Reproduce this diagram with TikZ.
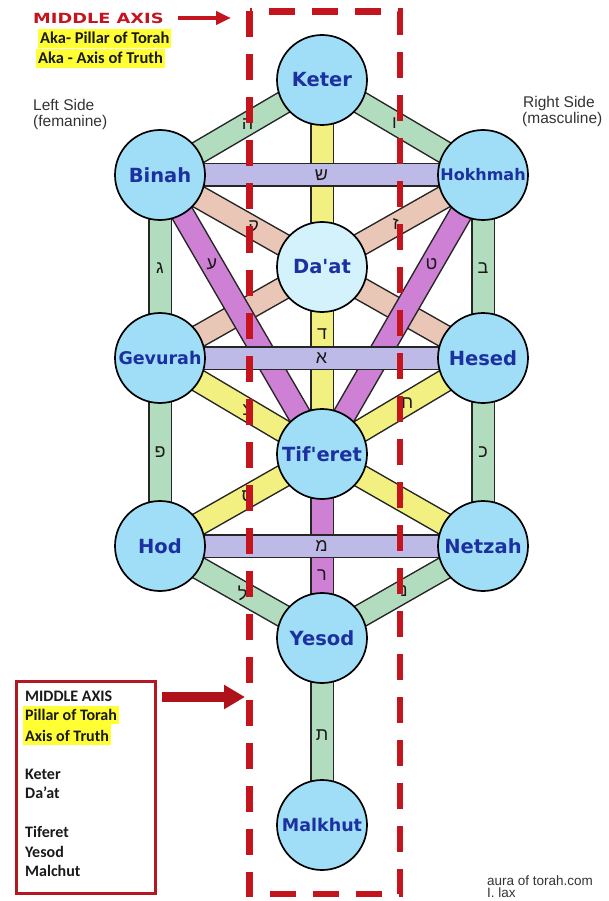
\documentclass[tikz,border=0pt]{standalone}
\usepackage{fontspec}
\setmainfont{Liberation Sans}
\newfontfamily\sefirafont{DejaVu Sans}
\newfontfamily\calfont{Carlito}
\newfontfamily\hebfont[Script=Hebrew]{Liberation Sans}
\usetikzlibrary{arrows.meta,backgrounds}
\definecolor{sefblue}{RGB}{160,222,248}
\definecolor{daatblue}{RGB}{212,242,251}
\definecolor{namblue}{RGB}{28,48,160}
\definecolor{pgreen}{RGB}{178,220,190}
\definecolor{pyellow}{RGB}{242,240,128}
\definecolor{plav}{RGB}{190,186,232}
\definecolor{ppeach}{RGB}{234,198,182}
\definecolor{ppurple}{RGB}{206,128,212}
\definecolor{axisred}{RGB}{196,20,30}
\definecolor{boxred}{RGB}{180,25,35}
\definecolor{hlyellow}{RGB}{255,255,51}

\begin{document}
\begin{tikzpicture}[x=1pt, y=-1pt,
    sefira/.style={circle, draw=black, line width=1.7pt, fill=sefblue, minimum size=90pt,
                   inner sep=0pt, text=namblue, font=\sefirafont\bfseries\fontsize{#1}{#1}\selectfont},
    sefira/.default=19.5,
    band/.style={draw=black!85, line width=1.5pt, double=#1, double distance=21pt},
    heb/.style={font=\hebfont\fontsize{18}{18}\selectfont, text=black!90, inner sep=0pt},
    side/.style={anchor=base west, font=\fontsize{15.5}{16}\selectfont, text=black!80, inner sep=0pt},
    note/.style={anchor=base west, font=\calfont\bfseries\fontsize{16}{18}\selectfont, text=black!90, inner sep=0pt},
    hilite/.style={fill=hlyellow, inner xsep=2pt, inner ysep=0pt, text height=14pt, text depth=4pt},
    axisline/.style={draw=axisred, line width=6.5pt, dash pattern=on 26pt off 17pt}
]
    \useasboundingbox (0,0) rectangle (608,901);

    \node[sefira] (Keter) at (322,80) {Keter};
    \node[sefira] (Binah) at (160,175) {Binah};
    \node[sefira=16] (Hokhmah) at (483,175) {Hokhmah};
    \node[sefira, fill=daatblue] (Daat) at (322,267) {Da'at};
    \node[sefira=17.5] (Gevurah) at (160,358) {Gevurah};
    \node[sefira] (Hesed) at (483,358) {Hesed};
    \node[sefira] (Tiferet) at (322,454) {Tif'eret};
    \node[sefira] (Hod) at (160,546) {Hod};
    \node[sefira] (Netzah) at (483,546) {Netzah};
    \node[sefira] (Yesod) at (322,638) {Yesod};
    \node[sefira=17.5] (Malkhut) at (322,825) {Malkhut};

    \begin{scope}[on background layer]
        \draw[band=pgreen] (Keter.center) -- node[heb, pos=.46]{ה} (Binah.center);
        \draw[band=pgreen] (Keter.center) -- node[heb, pos=.45]{ו} (Hokhmah.center);
        \draw[band=pgreen] (Binah.center) -- node[heb, pos=.51]{ג} (Gevurah.center);
        \draw[band=pgreen] (Hokhmah.center) -- node[heb, pos=.51]{ב} (Hesed.center);
        \draw[band=pgreen] (Gevurah.center) -- node[heb]{פ} (Hod.center);
        \draw[band=pgreen] (Hesed.center) -- node[heb]{כ} (Netzah.center);
        \draw[band=pgreen] (Hod.center) -- node[heb, pos=.51]{ל} (Yesod.center);
        \draw[band=pgreen] (Netzah.center) -- node[heb, pos=.49]{נ} (Yesod.center);
        \draw[band=pgreen] (Yesod.center) -- node[heb, pos=.52]{ת} (Malkhut.center);
        \draw[band=ppeach] (Binah.center) -- node[heb, pos=.29]{ק} (Hesed.center);
        \draw[band=ppeach] (Hokhmah.center) -- node[heb, pos=.27]{ז} (Gevurah.center);
        \draw[band=ppurple] (Binah.center) -- node[heb, pos=.32]{ע} (Tiferet.center);
        \draw[band=ppurple] (Hokhmah.center) -- node[heb, pos=.32]{ט} (Tiferet.center);
        \draw[band=ppurple] (Tiferet.center) -- node[heb, pos=.66]{ר} (Yesod.center);
        \draw[band=pyellow] (Keter.center) -- (Daat.center);
        \draw[band=pyellow] (Daat.center) -- node[heb, pos=.36]{ד} (Tiferet.center);
        \draw[band=pyellow] (Gevurah.center) -- node[heb, pos=.54]{צ} (Tiferet.center);
        \draw[band=pyellow] (Hesed.center) -- node[heb, pos=.47]{ח} (Tiferet.center);
        \draw[band=pyellow] (Tiferet.center) -- node[heb, pos=.46]{ס} (Hod.center);
        \draw[band=pyellow] (Tiferet.center) -- node[heb, pos=.5]{י} (Netzah.center);
        \draw[band=plav] (Binah.center) -- node[heb]{ש} (Hokhmah.center);
        \draw[band=plav] (Gevurah.center) -- node[heb]{א} (Hesed.center);
        \draw[band=plav] (Hod.center) -- node[heb]{מ} (Netzah.center);
    \end{scope}

    \draw[axisline] (249.5,11.5) rectangle (400,894);

    \node[anchor=west, inner sep=0pt, text=axisred, font=\sefirafont\bfseries\fontsize{14}{14}\selectfont]
        (midlabel) at (33,18) {\scalebox{1.27}[1]{MIDDLE AXIS}};
    \coordinate (topaim) at (231,18);
    \draw[axisred, line width=4pt, -{Triangle[length=15pt, width=13pt]}, shorten <=14pt] (midlabel.east) -- (topaim);
    \node[note, hilite, text height=15pt, font=\calfont\bfseries\fontsize{16.5}{18}\selectfont] (aka1) at (38,44) {Aka- Pillar of Torah};
    \node[note, hilite, text height=15pt, font=\calfont\bfseries\fontsize{16.5}{18}\selectfont] (aka2) at (36,64) {Aka - Axis of Truth};

    \node[side] (leftside) at (33,111) {Left Side};
    \node[side] (leftsub) at (33,127) {(femanine)};
    \node[side] (rightside) at (523,107.5) {Right Side};
    \node[side] (rightsub) at (522,123.5) {(masculine)};

    \node[draw=boxred, line width=3pt, minimum width=139pt, minimum height=212pt,
          anchor=north west, inner sep=0pt] (notebox) at (14.5,679.5) {};
    \node[note] (n1) at (25,701) {MIDDLE AXIS};
    \node[note, hilite] (n2) at (23,720) {Pillar of Torah};
    \node[note, hilite, text height=17pt] (n3) at (23,741) {Axis of Truth};
    \node[note] (n4) at (25,779) {Keter};
    \node[note] (n5) at (25,798) {Da’at};
    \node[note] (n6) at (25,837) {Tiferet};
    \node[note] (n7) at (25,857) {Yesod};
    \node[note] (n8) at (25,876) {Malchut};
    \coordinate (boxaim) at (245,697);
    \draw[axisred!90!black, line width=10pt, -{Triangle[length=21pt, width=23pt]}, shorten <=5pt] (notebox.east |- boxaim) -- (boxaim);

    \node[side, font=\fontsize{13.5}{14}\selectfont] (credit1) at (487,885) {aura of torah.com};
    \node[side, font=\fontsize{13.5}{14}\selectfont] (credit2) at (487,897) {I. lax};
\end{tikzpicture}
\end{document}
